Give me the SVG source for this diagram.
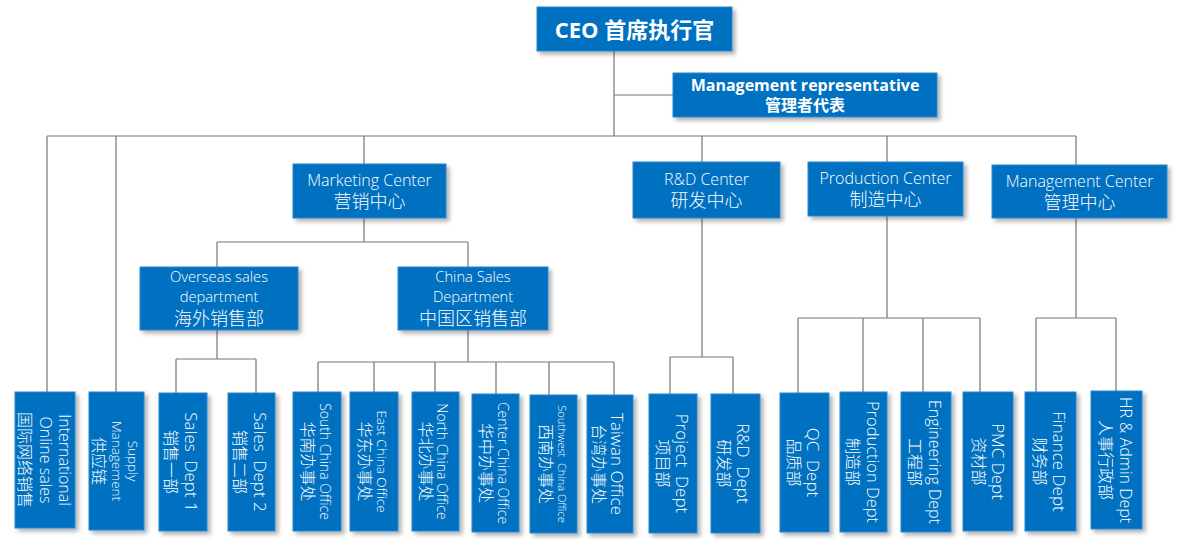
<svg xmlns="http://www.w3.org/2000/svg" width="1181" height="547" viewBox="0 0 1181 547">
<defs>
<filter id="sh" x="-20%" y="-20%" width="140%" height="140%">
<feDropShadow dx="3" dy="3" stdDeviation="2" flood-color="#000" flood-opacity="0.3"/>
</filter>
<style>
.box{fill:#0070C0;stroke:#2f86cf;stroke-width:1;filter:url(#sh);}
.t{fill:#fff;font-family:"Open Sans","Noto Sans CJK SC",sans-serif;font-weight:300;text-anchor:middle;font-size:16px;}
.b{font-weight:700;}
.ceo{font-size:22px;}
.v{dominant-baseline:central;}
.zh{font-size:18px;font-weight:300;}
.zv{font-size:16px;font-weight:300;}
.conn path{stroke:#767676;stroke-width:1.2;fill:none;}
</style>
</defs>
<rect width="1181" height="547" fill="#fff"/>
<g class="conn">
<path d="M614,51V136M614,95H673M47,136H1076"/>
<path d="M47,136V392M116,136V392M364,136V164M702,136V162M887,136V162M1076,136V165"/>
<path d="M364,218V242M217,242H468M217,242V267M468,242V267"/>
<path d="M217,330V359M176,359H256M176,359V393M256,359V393"/>
<path d="M468,330V362M318,362H614M318,362V392M374,362V392M435,362V392M496,362V394M549,362V395M614,362V395"/>
<path d="M702,218V357M670,357H733M670,357V394M733,357V394"/>
<path d="M887,216V318M798,318H980M798,318V393M863,318V392M923,318V392M980,318V392"/>
<path d="M1076,218V318M1036,318H1116M1036,318V392M1116,318V391"/>
</g>
<g id="ceo"><rect class="box" x="537" y="7" width="195" height="44"/><text class="t b ceo" x="634.5" y="37.5">CEO 首席执行官</text></g>
<g id="mgmt-rep"><rect class="box" x="673" y="73" width="264" height="44"/><text class="t b"><tspan x="805" y="91">Management representative</tspan><tspan x="805" y="111">管理者代表</tspan></text></g>
<g id="marketing"><rect class="box" x="293" y="164" width="153" height="54"/><text class="t"><tspan x="369.5" y="186">Marketing Center</tspan><tspan class="zh" x="369.5" y="208">营销中心</tspan></text></g>
<g id="rd-center"><rect class="box" x="633" y="162" width="147" height="56"/><text class="t"><tspan x="706.5" y="185">R&amp;D Center</tspan><tspan class="zh" x="706.5" y="207">研发中心</tspan></text></g>
<g id="production-center"><rect class="box" x="808" y="162" width="155" height="54"/><text class="t"><tspan x="885.5" y="183.5">Production Center</tspan><tspan class="zh" x="885.5" y="206">制造中心</tspan></text></g>
<g id="management-center"><rect class="box" x="992" y="165" width="175" height="53"/><text class="t"><tspan x="1079.5" y="187">Management Center</tspan><tspan class="zh" x="1079.5" y="209">管理中心</tspan></text></g>
<g id="overseas"><rect class="box" x="140" y="267" width="158" height="63"/><text class="t" style="font-size:14.7px"><tspan x="219" y="282">Overseas sales</tspan><tspan x="219" y="302">department</tspan><tspan class="zh" x="219" y="325">海外销售部</tspan></text></g>
<g id="china-sales"><rect class="box" x="398" y="267" width="150" height="63"/><text class="t" style="font-size:14.7px"><tspan x="473" y="282">China Sales</tspan><tspan x="473" y="302">Department</tspan><tspan class="zh" x="473" y="325">中国区销售部</tspan></text></g>

<g id="intl"><rect class="box" x="15" y="392" width="60" height="136"/><text class="t v" transform="translate(45,460) rotate(90)"><tspan x="0" y="-19.5">International</tspan><tspan x="0" y="-0.5">Online sales</tspan><tspan class="zv" x="0" y="20">国际网络销售</tspan></text></g>
<g id="supply"><rect class="box" x="89" y="392" width="55" height="138"/><text class="t v" transform="translate(116.5,461) rotate(90)"><tspan x="0" y="-16" font-size="13.5">Supply</tspan><tspan x="0" y="0" font-size="13.5">Management</tspan><tspan class="zv" x="0" y="18">供应链</tspan></text></g>
<g id="sales1"><rect class="box" x="159" y="393" width="48" height="138"/><text class="t v" transform="translate(183,462) rotate(90)"><tspan x="0" y="-9" font-size="17">Sales&#160; Dept 1</tspan><tspan class="zv" x="0" y="12">销售一部</tspan></text></g>
<g id="sales2"><rect class="box" x="228" y="393" width="47" height="138"/><text class="t v" transform="translate(251.5,462) rotate(90)"><tspan x="0" y="-9.5" font-size="17">Sales&#160; Dept 2</tspan><tspan class="zv" x="0" y="11.5">销售二部</tspan></text></g>
<g id="south"><rect class="box" x="293" y="392" width="48" height="139"/><text class="t v" transform="translate(317,461.5) rotate(90)"><tspan x="0" y="-9" font-size="14">South China Office</tspan><tspan class="zv" x="0" y="9.5">华南办事处</tspan></text></g>
<g id="east"><rect class="box" x="350" y="392" width="48" height="139"/><text class="t v" transform="translate(374,461.5) rotate(90)"><tspan x="0" y="-8" font-size="13.5">East China Office</tspan><tspan class="zv" x="0" y="9">华东办事处</tspan></text></g>
<g id="north"><rect class="box" x="412" y="392" width="47" height="139"/><text class="t v" transform="translate(435.5,461.5) rotate(90)"><tspan x="0" y="-7.5" font-size="14">North China Office</tspan><tspan class="zv" x="0" y="10">华北办事处</tspan></text></g>
<g id="center"><rect class="box" x="472" y="394" width="47" height="138"/><text class="t v" transform="translate(495.5,463) rotate(90)"><tspan x="0" y="-8.5" font-size="14">Center China Office</tspan><tspan class="zv" x="0" y="9.5">华中办事处</tspan></text></g>
<g id="southwest"><rect class="box" x="530" y="395" width="47" height="138"/><text class="t v" transform="translate(553.5,464) rotate(90)"><tspan x="0" y="-9" font-size="11">Southwest&#160; China Office</tspan><tspan class="zv" x="0" y="8">西南办事处</tspan></text></g>
<g id="taiwan"><rect class="box" x="587" y="395" width="46" height="138"/><text class="t v" transform="translate(610,464) rotate(90)"><tspan x="0" y="-8" font-size="17">Taiwan Office</tspan><tspan class="zv" x="0" y="11">台湾办事处</tspan></text></g>
<g id="project"><rect class="box" x="649" y="394" width="48" height="139"/><text class="t v" transform="translate(673,463.5) rotate(90)"><tspan x="0" y="-9.5" font-size="17">Project&#160; Dept</tspan><tspan class="zv" x="0" y="10">项目部</tspan></text></g>
<g id="rd-dept"><rect class="box" x="711" y="394" width="49" height="139"/><text class="t v" transform="translate(735.5,463.5) rotate(90)"><tspan x="0" y="-8.5" font-size="17">R&amp;D&#160; Dept</tspan><tspan class="zv" x="0" y="11.5">研发部</tspan></text></g>
<g id="qc"><rect class="box" x="780" y="393" width="49" height="139"/><text class="t v" transform="translate(804.5,462.5) rotate(90)"><tspan x="0" y="-9" font-size="17">QC&#160; Dept</tspan><tspan class="zv" x="0" y="11">品质部</tspan></text></g>
<g id="prod-dept"><rect class="box" x="840" y="392" width="47" height="140"/><text class="t v" transform="translate(863.5,462) rotate(90)"><tspan x="0" y="-10" font-size="16.5">Production Dept</tspan><tspan class="zv" x="0" y="10.5">制造部</tspan></text></g>
<g id="eng"><rect class="box" x="901" y="392" width="50" height="140"/><text class="t v" transform="translate(926,462) rotate(90)"><tspan x="0" y="-9" font-size="16">Engineering Dept</tspan><tspan class="zv" x="0" y="11">工程部</tspan></text></g>
<g id="pmc"><rect class="box" x="963" y="392" width="50" height="139"/><text class="t v" transform="translate(988,461.5) rotate(90)"><tspan x="0" y="-10.5" font-size="17">PMC Dept</tspan><tspan class="zv" x="0" y="9.5">资材部</tspan></text></g>
<g id="finance"><rect class="box" x="1025" y="392" width="51" height="139"/><text class="t v" transform="translate(1050.5,461.5) rotate(90)"><tspan x="0" y="-9.5" font-size="17">Finance Dept</tspan><tspan class="zv" x="0" y="11">财务部</tspan></text></g>
<g id="hr"><rect class="box" x="1091" y="391" width="51" height="138"/><text class="t v" transform="translate(1116.5,460) rotate(90)"><tspan x="0" y="-9.5" font-size="16">HR &amp; Admin Dept</tspan><tspan class="zv" x="0" y="10.5" font-size="15.5">人事行政部</tspan></text></g>
</svg>
